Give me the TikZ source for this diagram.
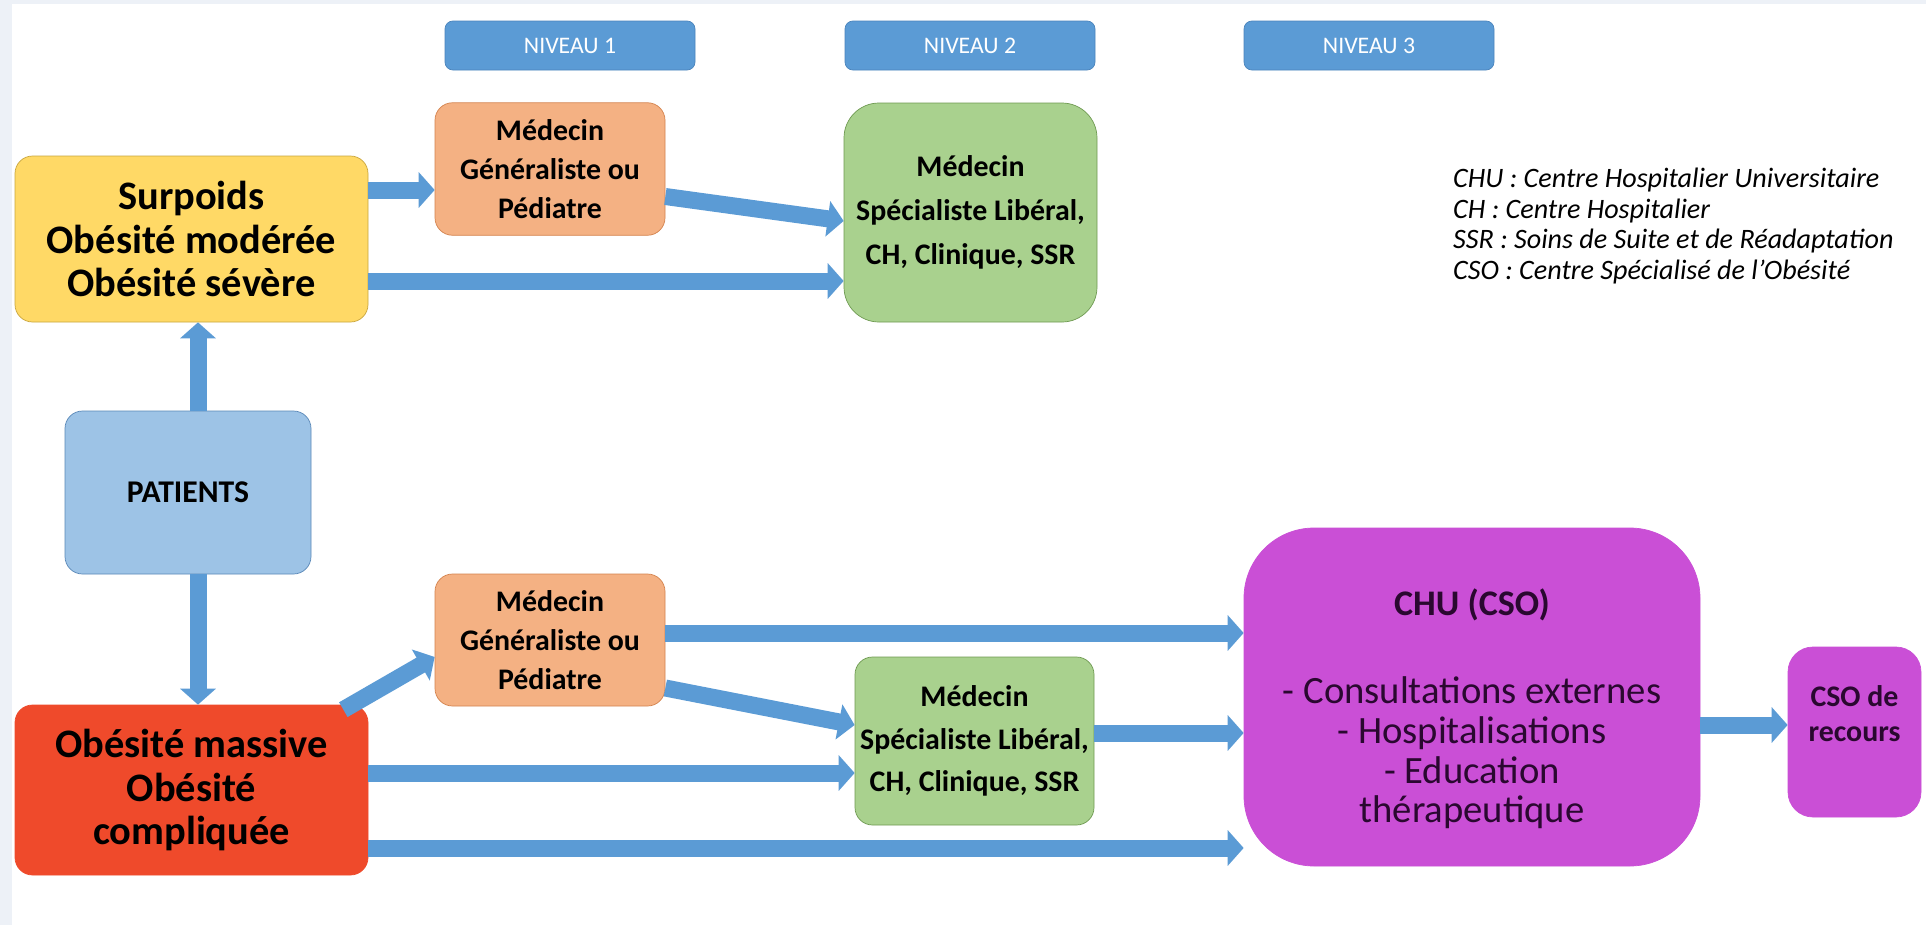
\documentclass[tikz,border=0pt]{standalone}
\usepackage{fontspec}
\setmainfont{Carlito}
\usetikzlibrary{arrows.meta,positioning,calc}

\definecolor{lvlblue}{HTML}{5B9BD5}
\definecolor{lvledge}{HTML}{4A84BC}
\definecolor{orangefill}{HTML}{F4B183}
\definecolor{orangeedge}{HTML}{D4834E}
\definecolor{yellowfill}{HTML}{FFD966}
\definecolor{yellowedge}{HTML}{C9A63E}
\definecolor{greenfill}{HTML}{A9D18E}
\definecolor{greenedge}{HTML}{6F9A52}
\definecolor{patfill}{HTML}{9DC3E6}
\definecolor{patedge}{HTML}{5A88B8}
\definecolor{redfill}{HTML}{EF4A2B}
\definecolor{magfill}{HTML}{CA4FD6}
\definecolor{chutext}{HTML}{2A0830}
\definecolor{sidegray}{HTML}{EDF1F7}

\begin{document}
\begin{tikzpicture}[
      level/.style={rectangle,draw=lvledge,fill=lvlblue,rounded corners=1.6mm,
                    minimum width=50mm,minimum height=9.8mm,inner sep=0pt,
                    text=white,font=\fontsize{13.5}{15}\selectfont},
      box/.style={rectangle,draw,thin,rounded corners=3.5mm,align=center,inner sep=0pt,
                  font=\bfseries\fontsize{23}{24.5}\selectfont},
      gp/.style={box,fill=orangefill,draw=orangeedge,minimum width=46mm,minimum height=26.5mm,
                 font=\bfseries\fontsize{17}{22}\selectfont},
      spec/.style={box,fill=greenfill,draw=greenedge,minimum width=50.6mm,minimum height=43.8mm,
                   font=\bfseries\fontsize{17}{25}\selectfont},
      chu/.style={box,fill=magfill,draw=magfill,rounded corners=14mm,text=chutext},
      arrow/.style={draw=lvlblue,line width=0.34cm,
                    -{Triangle[width=0.7cm,length=0.32cm]}},
      >=Latex
    ]

    % Page and side strips
    \fill[white] (0,0) rectangle (38.52,-18.5);
    \fill[sidegray] (0,0) rectangle (0.24,-18.5);
    \fill[sidegray] (0,0) rectangle (38.52,-0.07);

    % Levels
    \node[level] (L1) at (11.4,-0.91) {NIVEAU 1};
    \node[level] (L2) at (19.4,-0.91) {NIVEAU 2};
    \node[level] (L3) at (27.38,-0.91) {NIVEAU 3};

    % Upper row
    \node[box,fill=yellowfill,draw=yellowedge,minimum width=70.6mm,minimum height=33.2mm]
      (surp) at (3.83,-4.78) {Surpoids\\Obésité modérée\\Obésité sévère};
    \node[gp] (med1) at (11.0,-3.38) {Médecin\\Généraliste ou\\Pédiatre};
    \node[spec,rounded corners=7mm] (spec1) at (19.41,-4.25)
      {Médecin\\Spécialiste Libéral,\\CH, Clinique, SSR};

    % Patients
    \node[box,fill=patfill,draw=patedge,minimum width=49.2mm,minimum height=32.6mm,
          font=\bfseries\fontsize{18}{20}\selectfont] (pat) at (3.76,-9.85) {PATIENTS};

    % Lower row
    \node[box,fill=redfill,draw=redfill,minimum width=70.6mm,minimum height=34mm]
      (obm) at (3.83,-15.8) {Obésité massive\\Obésité\\compliquée};
    \node[gp,minimum height=26.4mm] (med2) at (11.0,-12.8) {Médecin\\Généraliste ou\\Pédiatre};
    \node[spec,minimum width=47.8mm,minimum height=33.6mm,
          font=\bfseries\fontsize{17}{24}\selectfont] (spec2) at (19.49,-14.82)
      {Médecin\\Spécialiste Libéral,\\CH, Clinique, SSR};
    \node[chu,minimum width=91.2mm,minimum height=67.6mm,
          font=\fontsize{22}{22.5}\selectfont] (chu) at (29.44,-13.94)
      {\rule{0pt}{1cm}{\bfseries\fontsize{20.5}{22.5}\selectfont CHU (CSO)}\\[28pt]
       - Consultations externes\\
       - Hospitalisations\\- Education\\thérapeutique};
    \node[chu,rounded corners=5mm,minimum width=26.6mm,minimum height=34mm,
          font=\bfseries\fontsize{17}{20}\selectfont] (cso) at (37.09,-14.64)
      {CSO de\\recours\rule[-0.74cm]{0pt}{0.74cm}};

    % Legend
    \node[anchor=west,align=left,font=\itshape\fontsize{16}{17.5}\selectfont] (legend)
      at (28.94,-4.52)
      {CHU : Centre Hospitalier Universitaire\\
       CH : Centre Hospitalier\\
       SSR : Soins de Suite et de Réadaptation\\
       CSO : Centre Spécialisé de l’Obésité};

    % Arrows, upper row
    \draw[arrow] ([yshift=0.98cm]surp.east) coordinate (a1) -- (a1 -| med1.west);
    \draw[arrow] ([yshift=-0.84cm]surp.east) coordinate (a2) -- (a2 -| spec1.west);
    \draw[arrow] ([yshift=-0.55cm]med1.east) -- ([yshift=-0.17cm]spec1.west);

    % Arrows from patients
    \draw[arrow] ([xshift=0.2cm]pat.north) coordinate (a3) -- (a3 |- surp.south);
    \draw[arrow] ([xshift=0.2cm]pat.south) coordinate (a4) -- (a4 |- obm.north);

    % Arrows, lower row
    \draw[arrow] ([xshift=-0.5cm,yshift=-0.1cm]obm.north east) -- ([yshift=-0.34cm]med2.west);
    \draw[arrow] ([yshift=0.14cm]med2.east) coordinate (a5) -- (a5 -| chu.west);
    \draw[arrow] ([yshift=-0.96cm]med2.east) -- ([yshift=0.32cm]spec2.west);
    \draw[arrow] ([yshift=0.34cm]obm.east) coordinate (a6) -- (a6 -| spec2.west);
    \draw[arrow] ([yshift=0.16cm]spec2.east) coordinate (a7) -- (a7 -| chu.west);
    \draw[arrow] ([yshift=-1.16cm]obm.east) coordinate (a8) -- (a8 -| chu.west);
    \draw[arrow] ([yshift=-0.56cm]chu.east) coordinate (a9) -- (a9 -| cso.west);

  \end{tikzpicture}
\end{document}
